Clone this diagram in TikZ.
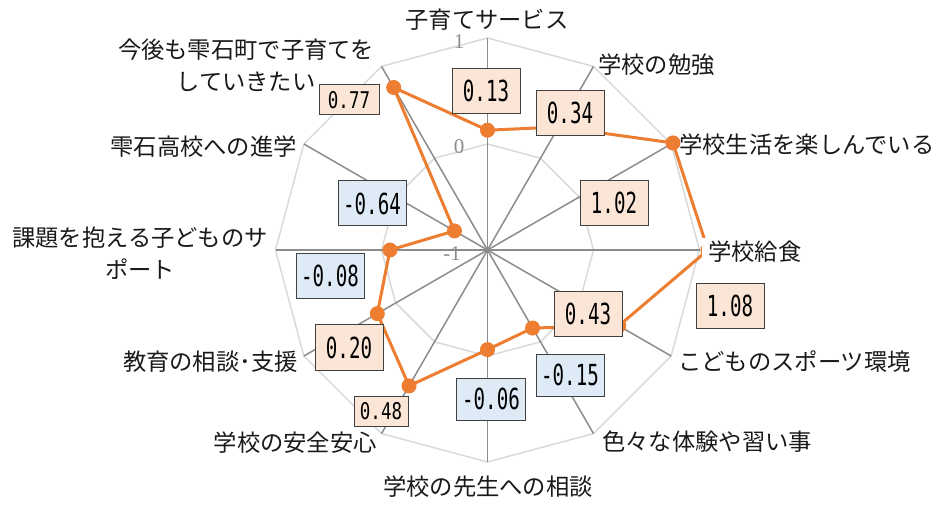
\documentclass[tikz,border=0pt]{standalone}
\usepackage{fontspec}
\setmainfont{Noto Sans CJK JP}
\newfontfamily\numfont[FakeStretch=0.66]{DejaVu Sans Mono}
\newfontfamily\numfonts[FakeStretch=0.76]{DejaVu Sans Mono}
\newfontfamily\axfont{Liberation Serif}
\definecolor{orng}{HTML}{ED7D31}
\definecolor{ringc}{HTML}{D9D9D9}
\definecolor{spokec}{HTML}{8C8C8C}
\definecolor{posfill}{HTML}{FBE5D6}
\definecolor{negfill}{HTML}{DEEBF7}
\definecolor{boxline}{HTML}{404040}
\definecolor{txt}{HTML}{1A1A1A}
\definecolor{axc}{HTML}{8C8C8C}
\tikzset{
  ring/.style={draw=ringc, line width=1.5pt},
  spoke/.style={draw=spokec, line width=1.5pt},
  series/.style={draw=orng, line width=3pt, line join=round},
  dot/.style={circle, fill=orng, draw=none, minimum size=15pt, inner sep=0pt},
  vbox/.style={draw=boxline, line width=1pt, inner sep=0pt, minimum width=68pt, minimum height=45pt, font=\numfont\fontsize{29}{29}\selectfont, text=black},
  sbox/.style={draw=boxline, line width=1pt, inner sep=0pt, minimum height=30pt, font=\numfonts\fontsize{23}{23}\selectfont, text=black},
  posbox/.style={fill=posfill},
  negbox/.style={fill=negfill},
  catlab/.style={inner sep=0pt, text=txt, font=\fontsize{23.3}{32}\selectfont, align=center},
  axlab/.style={inner sep=0pt, text=axc, font=\axfont\fontsize{21}{21}\selectfont}
}
\begin{document}
\begin{tikzpicture}[x=1pt, y=-1pt]
\useasboundingbox (0,0) rectangle (937,505);
\coordinate (c) at (487.5,250);
\foreach \i in {0,...,11} {
  \coordinate (o\i) at ({487.5+212*sin(30*\i)}, {250-212*cos(30*\i)});
  \coordinate (m\i) at ({487.5+106*sin(30*\i)}, {250-106*cos(30*\i)});
}
% rings
\draw[ring] (o0) -- (o1) -- (o2) -- (o3) -- (o4) -- (o5) -- (o6) -- (o7) -- (o8) -- (o9) -- (o10) -- (o11) -- cycle;
\draw[ring] (m0) -- (m1) -- (m2) -- (m3) -- (m4) -- (m5) -- (m6) -- (m7) -- (m8) -- (m9) -- (m10) -- (m11) -- cycle;
% spokes
\foreach \i in {0,...,11} { \draw[spoke] (c) -- (o\i); }
% axis value labels
\node[axlab] (ax1) at (459,42) {1};
\node[axlab] (ax0) at (459,147) {0};
\node[axlab] (axm) at (452,254) {-1};
% data points
\foreach \v [count=\k from 0] in {0.13,0.34,1.02,1.08,0.43,-0.15,-0.06,0.48,0.20,-0.08,-0.64,0.77} {
  \coordinate (p\k) at ({487.5+(\v+1)*106*sin(30*\k)}, {250-(\v+1)*106*cos(30*\k)});
}
\draw[series] (p0) -- (p1) -- (p2) -- (p3) -- (p4) -- (p5) -- (p6) -- (p7) -- (p8) -- (p9) -- (p10) -- (p11) -- cycle;
\foreach \k in {0,...,11} { \node[dot] (d\k) at (p\k) {}; }
% value boxes
\node[vbox,posbox] (v0) at (486,91) {0.13};
\node[vbox,posbox] (v1) at (570,113) {0.34};
\node[vbox,posbox] (v2) at (614,203) {1.02};
\node[vbox,posbox] (v3) at (730,306) {1.08};
\node[vbox,posbox] (v4) at (588,314) {0.43};
\node[vbox,negbox,minimum height=42pt] (v5) at (570,375) {-0.15};
\node[vbox,negbox,minimum height=42pt,minimum width=69pt] (v6) at (491,399) {-0.06};
\node[sbox,posbox,minimum width=54pt] (v7) at (381,411.5) {0.48};
\node[vbox,posbox,minimum height=46pt] (v8) at (349,347.5) {0.20};
\node[vbox,negbox] (v9) at (330,276) {-0.08};
\node[vbox,negbox] (v10) at (372,203.5) {-0.64};
\node[sbox,posbox,minimum width=60pt] (v11) at (349,100) {0.77};
% category labels
\node[catlab] (l0) at (487,20) {子育てサービス};
\node[catlab, anchor=west] (l1) at (598,65) {学校の勉強};
\node[catlab, anchor=west] (l2) at (679,145) {学校生活を楽しんでいる};
\node[catlab, anchor=west, fill=white, inner xsep=6pt, inner ysep=3pt] (l3) at (702,252) {学校給食};
\node[catlab, anchor=west] (l4) at (678,362) {こどものスポーツ環境};
\node[catlab, anchor=west] (l5) at (602,442) {色々な体験や習い事};
\node[catlab] (l6) at (488,487) {学校の先生への相談};
\node[catlab, anchor=east] (l7) at (377,443) {学校の安全安心};
\node[catlab, anchor=east] (l8) at (298,362) {教育の相談･支援};
\node[catlab] (l9) at (140,253) {課題を抱える子どものサ\\ポート};
\node[catlab, anchor=east] (l10) at (297,147) {雫石高校への進学};
\node[catlab] (l11) at (246,65) {今後も雫石町で子育てを\\していきたい};
\end{tikzpicture}
\end{document}
